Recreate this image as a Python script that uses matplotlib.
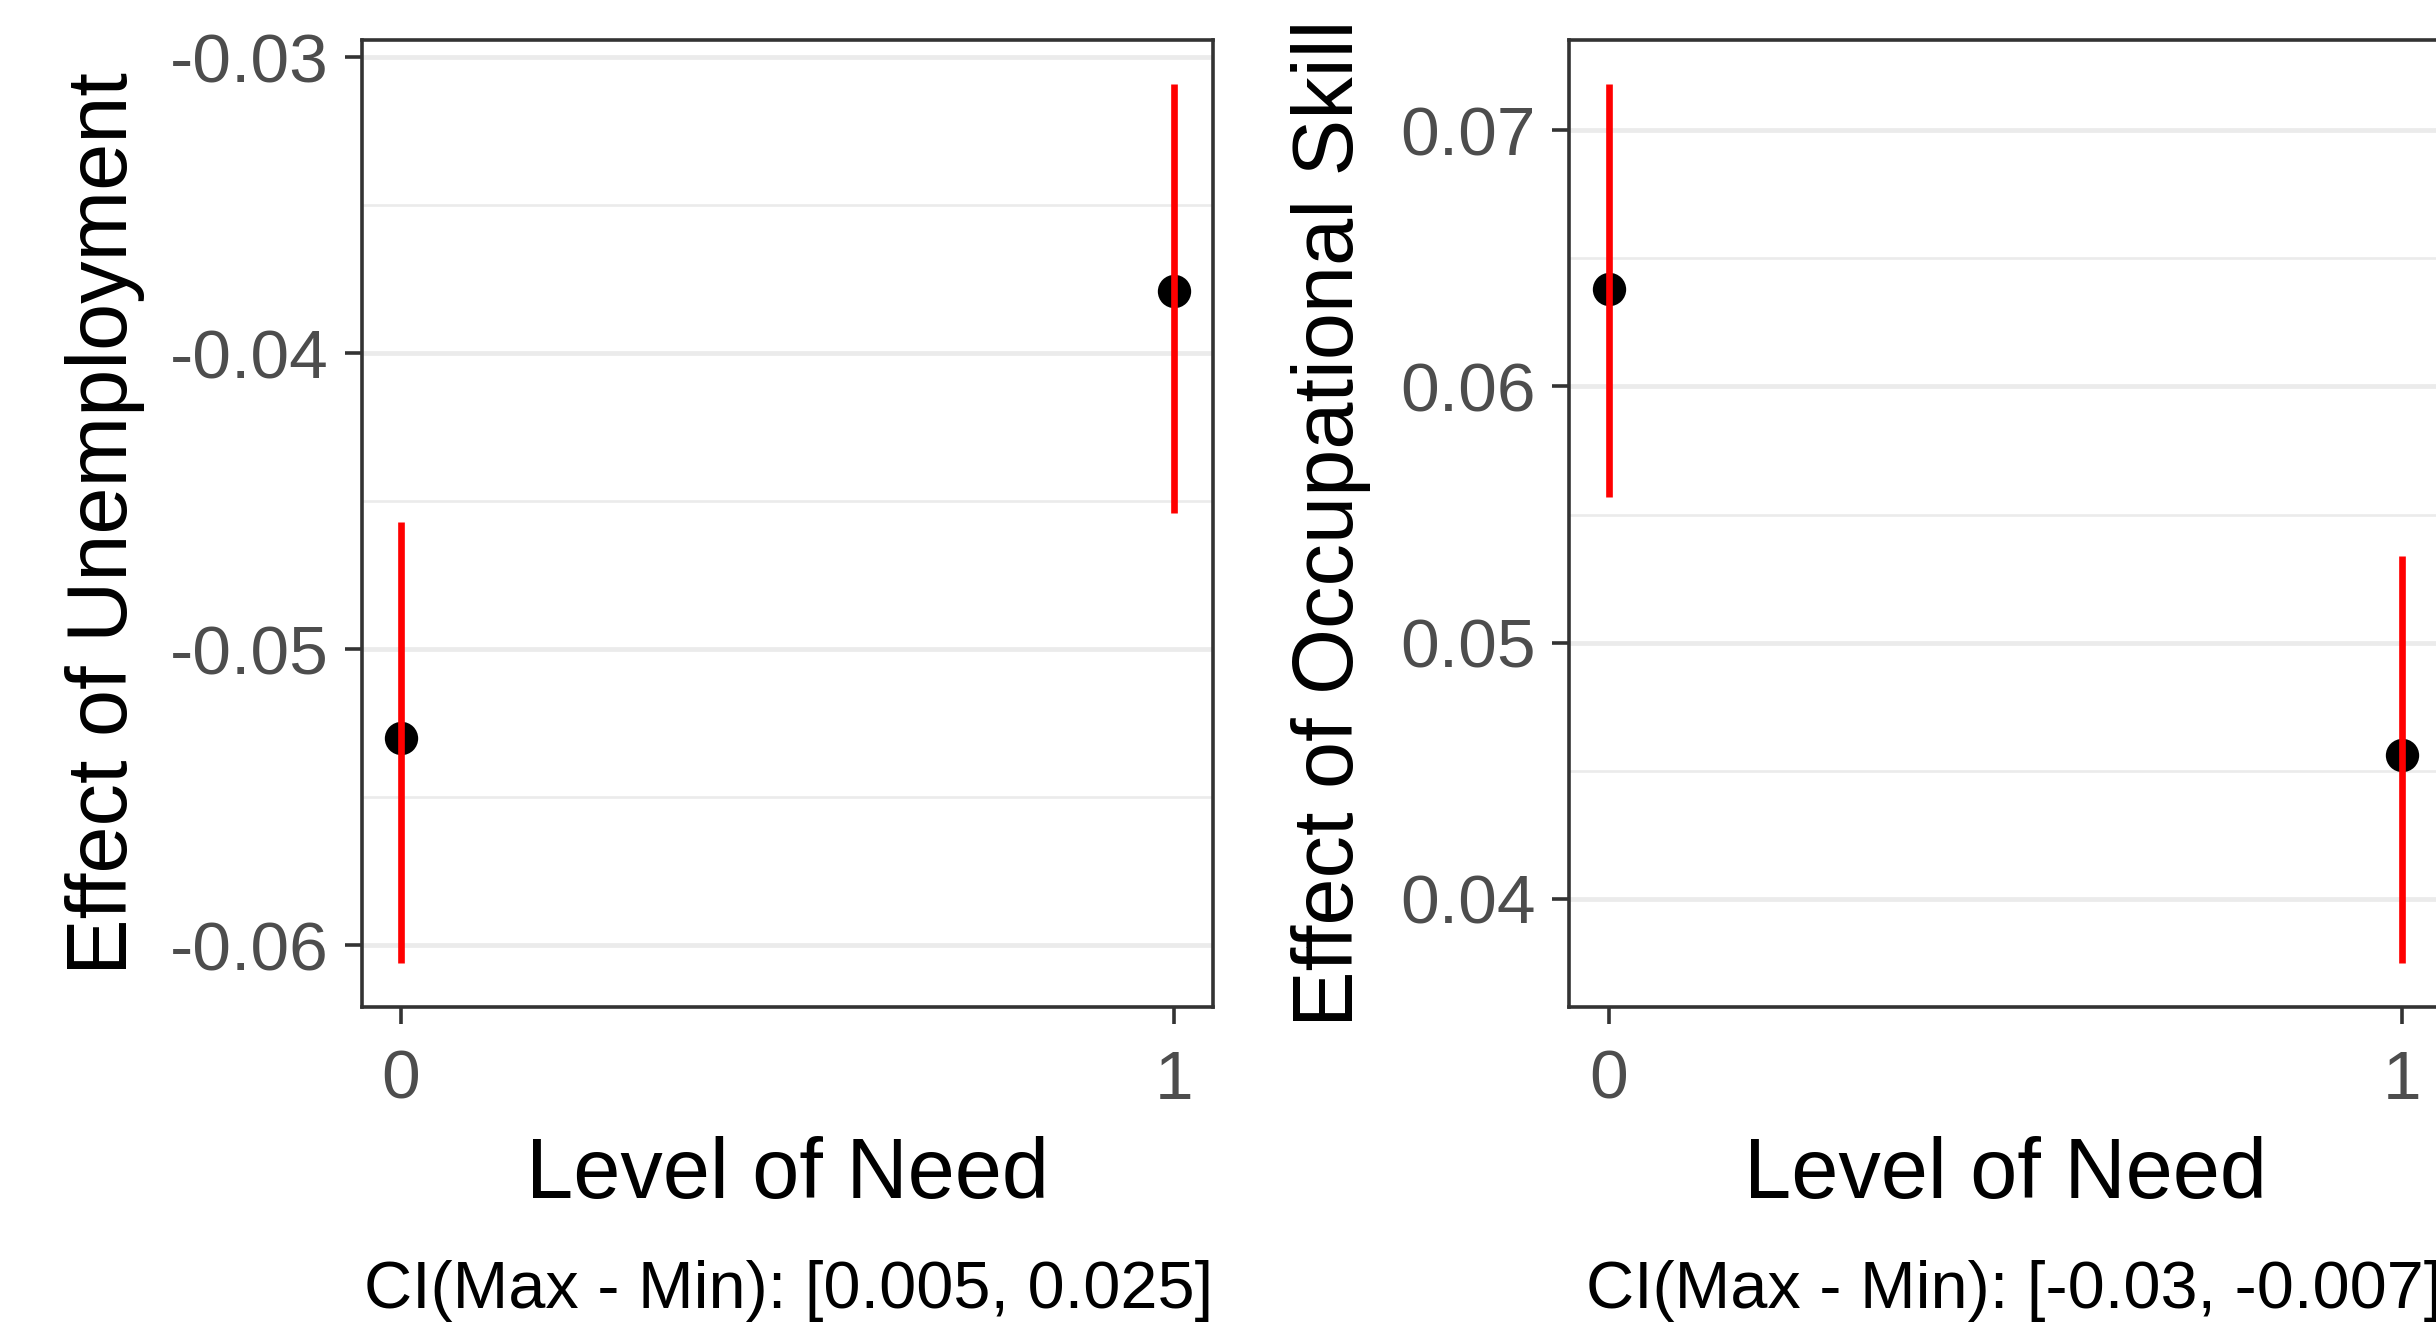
import matplotlib
matplotlib.use('Agg')
import matplotlib.pyplot as plt
from matplotlib.ticker import MultipleLocator, FormatStrFormatter

plt.rcParams['font.family'] = ['Liberation Sans', 'DejaVu Sans']
plt.rcParams['axes.unicode_minus'] = False

# Level of need on the x axis
need_levels = [0, 1]

# Effect of unemployment: point estimate and confidence bounds
unemp_est = [-0.0530, -0.0379]
unemp_lo = [-0.0606, -0.0454]
unemp_hi = [-0.0457, -0.0309]

# Effect of occupational skill: point estimate and confidence bounds
occ_est = [0.0638, 0.0456]
occ_lo = [0.0557, 0.0375]
occ_hi = [0.0718, 0.0534]

ylabels = ['Effect of Unemployment', 'Effect of Occupational Skill']
xlabel = 'Level of Need'
captions = ['CI(Max - Min): [0.005, 0.025]', 'CI(Max - Min): [-0.03, -0.007]']

GRID = '#EBEBEB'
FRAME = '#333333'
TICKTXT = '#4D4D4D'

fig = plt.figure(figsize=(24.36, 13.28), dpi=100)
# the right panel runs slightly past the edge, as in the cropped original
ax1 = fig.add_axes([0.1486, 0.2417, 0.3493, 0.7282])
ax2 = fig.add_axes([0.6441, 0.2417, 0.3584, 0.7282])

panels = [
    (ax1, unemp_est, unemp_lo, unemp_hi, -0.302),
    (ax2, occ_est, occ_lo, occ_hi, -0.2726),
]

for i, (ax, est, lo, hi, ylab_x) in enumerate(panels):
    ax.scatter(need_levels, est, s=24 ** 2, color='black', zorder=3, linewidths=0)
    ax.vlines(need_levels, lo, hi, color='red', linewidth=4.8, zorder=4)

    # ggplot style 5% expansion
    ymin, ymax = min(lo), max(hi)
    pad = 0.05 * (ymax - ymin)
    ax.set_ylim(ymin - pad, ymax + pad)
    ax.set_xlim(-0.05, 1.05)

    ax.set_xticks(need_levels)
    ax.yaxis.set_major_locator(MultipleLocator(0.01))
    ax.yaxis.set_minor_locator(MultipleLocator(0.005))
    ax.yaxis.set_major_formatter(FormatStrFormatter('%.2f'))

    ax.grid(axis='y', which='major', color=GRID, linewidth=3.4, zorder=0)
    ax.grid(axis='y', which='minor', color=GRID, linewidth=1.9, zorder=0)
    ax.set_axisbelow(True)

    for sp in ax.spines.values():
        sp.set_color(FRAME)
        sp.set_linewidth(2.6)

    ax.tick_params(axis='both', which='major', length=12, width=2.6, color=FRAME,
                   labelsize=50, labelcolor=TICKTXT)
    ax.tick_params(axis='x', pad=18)
    ax.tick_params(axis='y', pad=12)
    ax.tick_params(axis='y', which='minor', length=0)

    ax.set_xlabel(xlabel, fontsize=61, labelpad=17)
    ax.text(ylab_x, 0.5, ylabels[i], transform=ax.transAxes, rotation=90,
            ha='center', va='center', fontsize=61)

    ax.annotate(captions[i], xy=(1.0, 0.028),
                xycoords=('axes fraction', 'figure fraction'),
                ha='right', va='center', fontsize=48, color='black')

fig.savefig('out.png', dpi=100)
